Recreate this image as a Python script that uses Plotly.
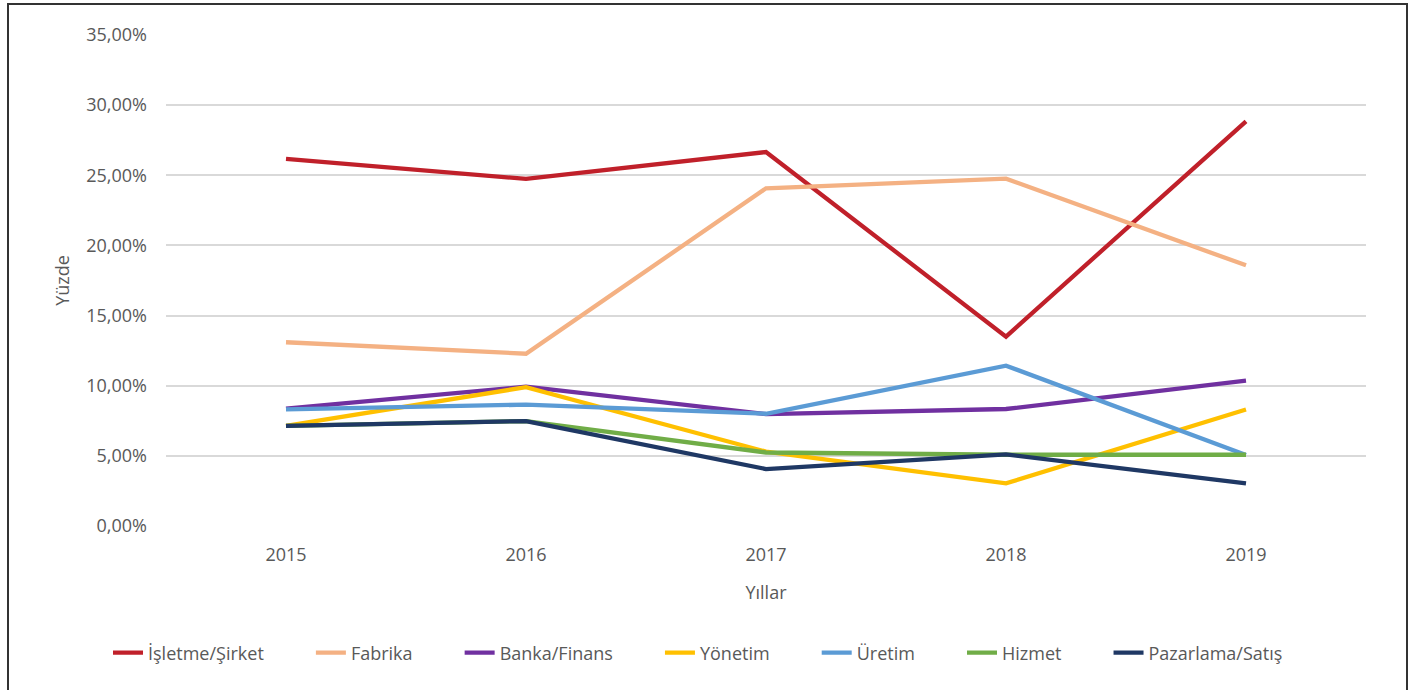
import plotly.graph_objects as go

years = ["2015", "2016", "2017", "2018", "2019"]
isletme = [0.2617, 0.2474, 0.2666, 0.1350, 0.2885]
fabrika = [0.1310, 0.1228, 0.2407, 0.2476, 0.1858]
banka = [0.0836, 0.0993, 0.0798, 0.0834, 0.1036]
yonetim = [0.0714, 0.0990, 0.0530, 0.0304, 0.0830]
uretim = [0.0832, 0.0865, 0.0800, 0.1143, 0.0506]
hizmet = [0.0714, 0.0748, 0.0524, 0.0508, 0.0508]
pazarlama = [0.0714, 0.0748, 0.0406, 0.0510, 0.0304]

series = [
    ("İşletme/Şirket", isletme, "#C0202A"),
    ("Fabrika", fabrika, "#F4B183"),
    ("Banka/Finans", banka, "#7030A0"),
    ("Yönetim", yonetim, "#FFC000"),
    ("Üretim", uretim, "#5B9BD5"),
    ("Hizmet", hizmet, "#70AD47"),
    ("Pazarlama/Satış", pazarlama, "#1F3864"),
]

pad = "\u00a0" * 9
fig = go.Figure()
for i, (name, vals, col) in enumerate(series):
    label = name + (pad if i < len(series) - 1 else "")
    fig.add_trace(go.Scatter(x=years, y=vals, name=label, mode="lines",
                             line=dict(color=col, width=4.3)))

W, H = 1417, 690
L, R, T, B = 166, 1366, 35, 526
fig.update_layout(
    width=W, height=H,
    margin=dict(l=L, r=W - R, t=T, b=H - B, autoexpand=False),
    paper_bgcolor="white", plot_bgcolor="white",
    separators=",.",
    font=dict(family="Open Sans", color="#595959", size=18),
    xaxis=dict(type="category", range=[-0.5, 4.5], showgrid=False,
               showline=False, ticks="", ticklabelstandoff=16,
               title=dict(text="Yıllar", font=dict(size=18), standoff=21),
               tickfont=dict(size=18)),
    yaxis=dict(range=[0, 0.35], dtick=0.05, tickformat=".2%",
               showgrid=True, gridcolor="#D9D9D9", gridwidth=1.5,
               zeroline=False, showline=False, ticks="",
               ticklabelstandoff=18,
               title=dict(text="Yüzde", font=dict(size=18), standoff=11),
               tickfont=dict(size=18)),
    legend=dict(orientation="h", x=(108 - L) / (R - L), xanchor="left",
                y=(B - 653) / (B - T), yanchor="middle",
                font=dict(size=18), itemwidth=30, traceorder="normal"),
    showlegend=True,
)
pw = R - L
ph = B - T
fig.add_shape(type="rect", xref="paper", yref="paper",
              x0=(8 - L) / pw, x1=(1407 - L) / pw,
              y0=(B - 720) / ph, y1=(B - 4) / ph,
              line=dict(color="#333333", width=2), fillcolor="rgba(0,0,0,0)",
              layer="above")

fig.write_html("out.html", config={"displayModeBar": False},
               post_script="document.body.style.margin='0';")
